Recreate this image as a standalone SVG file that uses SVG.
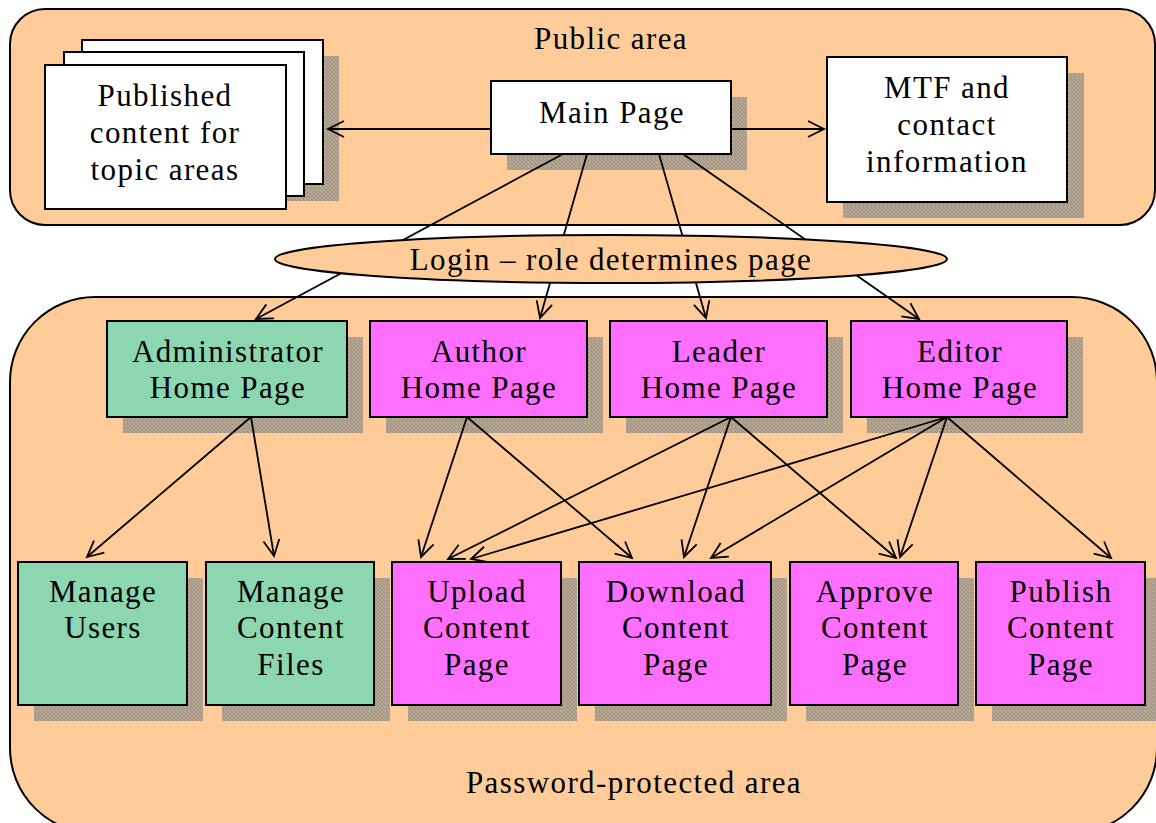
<svg xmlns="http://www.w3.org/2000/svg" width="1156" height="823" viewBox="0 0 1156 823">
<style>
  .region { fill: #FFCC99; stroke: #000; stroke-width: 2; }
  .box { stroke: #000; stroke-width: 2; }
  .white { fill: #FFFFFF; }
  .green { fill: #8CD6B0; }
  .pink { fill: #FF6FFF; }
  .shadow { fill: url(#stipple); }
  .t { font-family: "Liberation Serif", "Times New Roman", serif; font-size: 31px; letter-spacing: 1.4px; fill: #000; text-anchor: middle; }
  .conn line { stroke: #000; stroke-width: 1.8; fill: none; }
  .arr { marker-end: url(#ah); }
</style>
<defs>
  <pattern id="stipple" width="4" height="4" patternUnits="userSpaceOnUse">
    <rect width="4" height="4" fill="#B8A68E"/>
    <rect x="0" y="0" width="1" height="1" fill="#8A8A8A"/>
    <rect x="2" y="1" width="1" height="1" fill="#8A8A8A"/>
    <rect x="1" y="2" width="1" height="1" fill="#9A9A9A"/>
    <rect x="3" y="3" width="1" height="1" fill="#8A8A8A"/>
    <rect x="3" y="0" width="1" height="1" fill="#A0A0A0"/>
  </pattern>
  <marker id="ah" viewBox="-18 -10 20 20" refX="0" refY="0" markerWidth="20" markerHeight="20" markerUnits="userSpaceOnUse" orient="auto" overflow="visible">
    <path d="M-16,-8 L0,0 L-16,8" fill="none" stroke="#000" stroke-width="1.8"/>
  </marker>
</defs>

<g id="public-area">
  <rect class="region" x="10" y="9" width="1145" height="216" rx="35" ry="35"/>
  <text class="t" x="611" y="49">Public area</text>
</g>
<g id="protected-area">
  <rect class="region" x="10" y="297" width="1147" height="536" rx="85" ry="85"/>
  <text class="t" x="634" y="793">Password-protected area</text>
</g>

<g id="published-content">
  <rect class="shadow" x="98" y="56" width="241" height="145"/>
  <rect class="box white" x="82" y="40" width="241" height="144"/>
  <rect class="box white" x="64" y="52" width="240" height="144"/>
  <rect class="box white" x="45" y="65" width="241" height="144"/>
  <text class="t" x="165" y="106">Published</text>
  <text class="t" x="165" y="143">content for</text>
  <text class="t" x="165" y="180">topic areas</text>
</g>

<g id="main-page">
  <rect class="shadow" x="507" y="97" width="240" height="73"/>
  <rect class="box white" x="491" y="81" width="240" height="73"/>
  <text class="t" x="612" y="123">Main Page</text>
</g>

<g id="mtf-contact">
  <rect class="shadow" x="843" y="73" width="241" height="145"/>
  <rect class="box white" x="827" y="57" width="240" height="145"/>
  <text class="t" x="947" y="98">MTF and</text>
  <text class="t" x="947" y="135">contact</text>
  <text class="t" x="947" y="172">information</text>
</g>

<g id="admin-home">
  <rect class="shadow" x="123" y="337" width="240" height="96"/>
  <rect class="box green" x="107" y="321" width="240" height="96"/>
  <text class="t" x="228" y="362">Administrator</text>
  <text class="t" x="228" y="398">Home Page</text>
</g>
<g id="author-home">
  <rect class="shadow" x="386" y="337" width="217" height="96"/>
  <rect class="box pink" x="370" y="321" width="217" height="96"/>
  <text class="t" x="479" y="362">Author</text>
  <text class="t" x="479" y="398">Home Page</text>
</g>
<g id="leader-home">
  <rect class="shadow" x="626" y="337" width="217" height="96"/>
  <rect class="box pink" x="610" y="321" width="217" height="96"/>
  <text class="t" x="719" y="362">Leader</text>
  <text class="t" x="719" y="398">Home Page</text>
</g>
<g id="editor-home">
  <rect class="shadow" x="867" y="337" width="216" height="96"/>
  <rect class="box pink" x="851" y="321" width="216" height="96"/>
  <text class="t" x="960" y="362">Editor</text>
  <text class="t" x="960" y="398">Home Page</text>
</g>

<g id="manage-users">
  <rect class="shadow" x="34" y="578" width="169" height="143"/>
  <rect class="box green" x="18" y="562" width="169" height="143"/>
  <text class="t" x="103" y="602">Manage</text>
  <text class="t" x="103" y="638">Users</text>
</g>
<g id="manage-content-files">
  <rect class="shadow" x="222" y="578" width="168" height="143"/>
  <rect class="box green" x="206" y="562" width="168" height="143"/>
  <text class="t" x="291" y="602">Manage</text>
  <text class="t" x="291" y="638">Content</text>
  <text class="t" x="291" y="675">Files</text>
</g>
<g id="upload-content">
  <rect class="shadow" x="408" y="578" width="169" height="143"/>
  <rect class="box pink" x="392" y="562" width="169" height="143"/>
  <text class="t" x="477" y="602">Upload</text>
  <text class="t" x="477" y="638">Content</text>
  <text class="t" x="477" y="675">Page</text>
</g>
<g id="download-content">
  <rect class="shadow" x="595" y="578" width="192" height="143"/>
  <rect class="box pink" x="579" y="562" width="192" height="143"/>
  <text class="t" x="676" y="602">Download</text>
  <text class="t" x="676" y="638">Content</text>
  <text class="t" x="676" y="675">Page</text>
</g>
<g id="approve-content">
  <rect class="shadow" x="806" y="578" width="168" height="143"/>
  <rect class="box pink" x="790" y="562" width="168" height="143"/>
  <text class="t" x="875" y="602">Approve</text>
  <text class="t" x="875" y="638">Content</text>
  <text class="t" x="875" y="675">Page</text>
</g>
<g id="publish-content">
  <rect class="shadow" x="992" y="578" width="169" height="143"/>
  <rect class="box pink" x="976" y="562" width="169" height="143"/>
  <text class="t" x="1061" y="602">Publish</text>
  <text class="t" x="1061" y="638">Content</text>
  <text class="t" x="1061" y="675">Page</text>
</g>

<g id="connectors" class="conn">
  <line class="arr" x1="491" y1="129" x2="328" y2="129"/>
  <line class="arr" x1="731" y1="129" x2="824" y2="129"/>
  <line class="arr" x1="563" y1="154" x2="256" y2="319"/>
  <line class="arr" x1="587" y1="154" x2="540" y2="318"/>
  <line class="arr" x1="659" y1="154" x2="706" y2="318"/>
  <line class="arr" x1="683" y1="154" x2="919" y2="319"/>
  <line class="arr" x1="251" y1="417" x2="87" y2="557"/>
  <line class="arr" x1="251" y1="417" x2="274" y2="556"/>
  <line class="arr" x1="467" y1="417" x2="421" y2="557"/>
  <line class="arr" x1="467" y1="417" x2="632" y2="558"/>
  <line class="arr" x1="731" y1="417" x2="448" y2="559"/>
  <line class="arr" x1="731" y1="417" x2="684" y2="557"/>
  <line class="arr" x1="731" y1="417" x2="896" y2="558"/>
  <line class="arr" x1="947" y1="417" x2="471" y2="559"/>
  <line class="arr" x1="947" y1="417" x2="711" y2="558"/>
  <line class="arr" x1="947" y1="417" x2="900" y2="557"/>
  <line class="arr" x1="947" y1="417" x2="1111" y2="558"/>
</g>

<g id="login">
  <ellipse cx="611" cy="259" rx="336" ry="24" fill="#FFCC99" stroke="#000" stroke-width="2"/>
  <text class="t" x="611" y="270">Login – role determines page</text>
</g>
</svg>
